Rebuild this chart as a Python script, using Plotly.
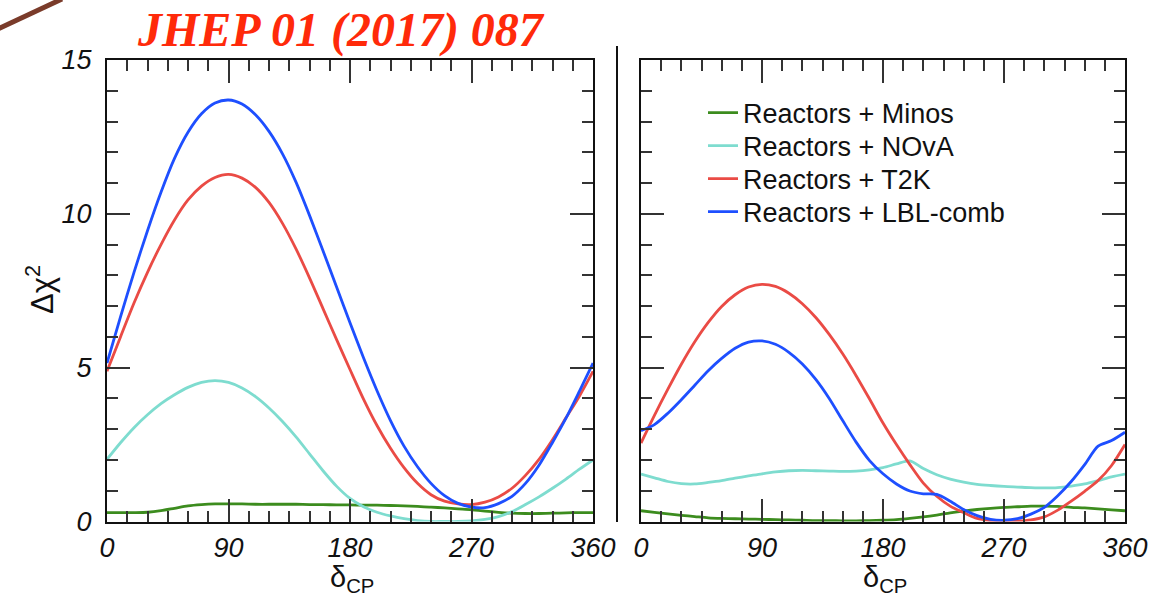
import plotly.graph_objects as go

W, H = 1173, 607

# delta_CP grid (degrees)
delta = list(range(0, 361, 10))

# Left panel (normal ordering)
minos_l = [0.29, 0.29, 0.29, 0.3, 0.35, 0.43, 0.51, 0.55, 0.57, 0.57, 0.57, 0.56, 0.56, 0.56, 0.56, 0.55, 0.55, 0.54, 0.54,
           0.53, 0.53, 0.52, 0.51, 0.49, 0.47, 0.44, 0.41, 0.38, 0.34, 0.3, 0.27, 0.26, 0.26, 0.27, 0.28, 0.29, 0.29]
nova_l = [2.02, 2.56, 3.05, 3.47, 3.83, 4.12, 4.36, 4.52, 4.58, 4.52, 4.34, 4.06, 3.69, 3.25, 2.75, 2.2, 1.65, 1.15, 0.75,
          0.48, 0.3, 0.18, 0.09, 0.03, 0.0, 0.0, 0.0, 0.02, 0.07, 0.16, 0.32, 0.55, 0.8, 1.08, 1.38, 1.7, 2.0]
t2k_l = [4.88, 6.0, 7.1, 8.1, 9.0, 9.8, 10.45, 10.9, 11.18, 11.28, 11.16, 10.86, 10.37, 9.69, 8.86, 7.92, 6.92, 5.92, 4.94,
         3.98, 3.12, 2.38, 1.75, 1.24, 0.87, 0.66, 0.57, 0.55, 0.63, 0.8, 1.08, 1.5, 2.02, 2.66, 3.37, 4.08, 4.88]
lbl_l = [5.15, 6.65, 8.1, 9.45, 10.7, 11.8, 12.65, 13.25, 13.6, 13.7, 13.57, 13.22, 12.68, 11.95, 11.03, 9.95, 8.8, 7.63, 6.46,
         5.32, 4.25, 3.28, 2.45, 1.78, 1.24, 0.84, 0.59, 0.47, 0.45, 0.58, 0.82, 1.24, 1.83, 2.57, 3.36, 4.24, 5.15]

# Right panel (inverted ordering)
minos_r = [0.35, 0.3, 0.25, 0.2, 0.16, 0.12, 0.1, 0.09, 0.08, 0.07, 0.06, 0.05, 0.04, 0.03, 0.03, 0.02, 0.02, 0.03, 0.04,
           0.06, 0.1, 0.15, 0.21, 0.28, 0.34, 0.39, 0.43, 0.46, 0.48, 0.5, 0.5, 0.49, 0.46, 0.44, 0.41, 0.38, 0.35]
nova_r = [1.54, 1.42, 1.3, 1.23, 1.22, 1.27, 1.33, 1.41, 1.48, 1.55, 1.61, 1.65, 1.66, 1.65, 1.64, 1.63, 1.64, 1.68, 1.75,
          1.87, 1.97, 1.72, 1.52, 1.38, 1.28, 1.21, 1.17, 1.14, 1.12, 1.1, 1.09, 1.1, 1.15, 1.22, 1.33, 1.45, 1.54]
t2k_r = [2.55, 3.45, 4.3, 5.11, 5.84, 6.47, 6.99, 7.37, 7.62, 7.71, 7.64, 7.42, 7.08, 6.63, 6.08, 5.45, 4.74, 3.98, 3.2,
         2.5, 1.85, 1.25, 0.82, 0.5, 0.29, 0.1, 0.03, 0.0, 0.01, 0.05, 0.15, 0.37, 0.66, 0.98, 1.33, 1.82, 2.5]
lbl_r = [2.95, 3.15, 3.52, 3.96, 4.43, 4.9, 5.3, 5.63, 5.83, 5.87, 5.76, 5.5, 5.12, 4.62, 4.0, 3.28, 2.58, 1.98, 1.55,
         1.22, 0.99, 0.9, 0.88, 0.66, 0.39, 0.19, 0.07, 0.04, 0.09, 0.24, 0.46, 0.84, 1.3, 1.85, 2.45, 2.63, 2.9]

series_names = ["Reactors + Minos", "Reactors + NOvA", "Reactors + T2K", "Reactors + LBL-comb"]
series_colors = ["#3c8c1e", "#7edccf", "#ea4b45", "#1e4fff"]
left_data = [minos_l, nova_l, t2k_l, lbl_l]
right_data = [minos_r, nova_r, t2k_r, lbl_r]

x_ticks = [0, 90, 180, 270, 360]
y_ticks = [0, 5, 10, 15]

legend_ids = ["legend", "legend2", "legend3", "legend4"]
legend_rows_px = [113, 146, 179, 212]

fig = go.Figure()
for name, col, yl, yr, lid in zip(series_names, series_colors, left_data, right_data, legend_ids):
    fig.add_trace(go.Scatter(x=delta, y=yl, mode="lines", name=name,
                             showlegend=False, line=dict(color=col, width=2.8, shape="spline", smoothing=0.8),
                             xaxis="x", yaxis="y"))
    fig.add_trace(go.Scatter(x=delta, y=yr, mode="lines", name=name, legend=lid,
                             showlegend=True, line=dict(color=col, width=2.8, shape="spline", smoothing=0.8),
                             xaxis="x2", yaxis="y2"))

tickfont = dict(family="Liberation Sans, Arial, sans-serif", size=27, color="#111", style="italic")


def xax(domain, anchor):
    return dict(domain=domain, anchor=anchor, range=[0, 360], tickmode="array", tickvals=x_ticks,
                ticks="inside", ticklen=23, tickwidth=2, tickcolor="#333", mirror="allticks",
                showline=True, linewidth=2, linecolor="#111", showgrid=False, zeroline=False,
                tickfont=tickfont, ticklabelstandoff=1, automargin=False,
                minor=dict(dtick=15, tick0=0, ticks="inside", ticklen=11, tickwidth=2, tickcolor="#333", showgrid=False))


def yax(domain, anchor, labels):
    return dict(domain=domain, anchor=anchor, range=[0, 15], tickmode="array", tickvals=y_ticks,
                ticks="inside", ticklen=23, tickwidth=2, tickcolor="#333", mirror="allticks",
                showline=True, linewidth=2, linecolor="#111", showgrid=False, zeroline=False,
                showticklabels=labels, tickfont=tickfont, ticklabelstandoff=8, automargin=False,
                minor=dict(dtick=1, tick0=0, ticks="inside", ticklen=11, tickwidth=2, tickcolor="#333", showgrid=False))


legend_font = dict(family="Liberation Sans, Arial, sans-serif", size=27, color="#111")
legends = {}
for lid, row in zip(legend_ids, legend_rows_px):
    legends[lid] = dict(x=703 / W, y=1 - row / H, xanchor="left", yanchor="middle",
                        bgcolor="rgba(0,0,0,0)", borderwidth=0, font=legend_font)

ydom = [1 - 521.5 / H, 1 - 60 / H]
fig.update_layout(
    template="none",
    width=W, height=H,
    margin=dict(l=0, r=0, t=0, b=0, autoexpand=False),
    paper_bgcolor="white", plot_bgcolor="white",
    xaxis=xax([107 / W, 593 / W], "y"),
    yaxis=yax(ydom, "x", True),
    xaxis2=xax([641 / W, 1125 / W], "y2"),
    yaxis2=yax(ydom, "x2", False),
    showlegend=True,
    **legends,
)

axis_title_font = dict(family="Liberation Sans, Arial, sans-serif", size=29, color="#111")
annotations = [
    dict(text="JHEP 01 (2017) 087", x=341 / W, y=1 - 30 / H, xref="paper", yref="paper",
         xanchor="center", yanchor="middle", showarrow=False,
         font=dict(family="Liberation Serif, Times New Roman, serif", size=48, color="#ff2a0a",
                   style="italic", weight="bold")),
    dict(text="δ<sub>CP</sub>", x=352 / W, y=1 - 579 / H, xref="paper", yref="paper",
         xanchor="center", yanchor="middle", showarrow=False, font=axis_title_font),
    dict(text="δ<sub>CP</sub>", x=885 / W, y=1 - 579 / H, xref="paper", yref="paper",
         xanchor="center", yanchor="middle", showarrow=False, font=axis_title_font),
    dict(text="Δχ<sup>2</sup>", x=40 / W, y=1 - 290 / H, xref="paper", yref="paper",
         xanchor="center", yanchor="middle", showarrow=False, textangle=-90,
         font=dict(family="Liberation Sans, Arial, sans-serif", size=31, color="#111")),
]
fig.update_layout(annotations=annotations)

shapes = [
    dict(type="line", xref="paper", yref="paper", x0=617 / W, x1=617 / W, y0=1 - 522 / H, y1=1 - 46 / H,
         line=dict(color="#111", width=2)),
    dict(type="line", xref="paper", yref="paper", x0=-2 / W, x1=62 / W, y0=1 - 29 / H, y1=1 + 1 / H,
         line=dict(color="#7a3b2a", width=5)),
]
fig.update_layout(shapes=shapes)

fig.write_html("out.html")
